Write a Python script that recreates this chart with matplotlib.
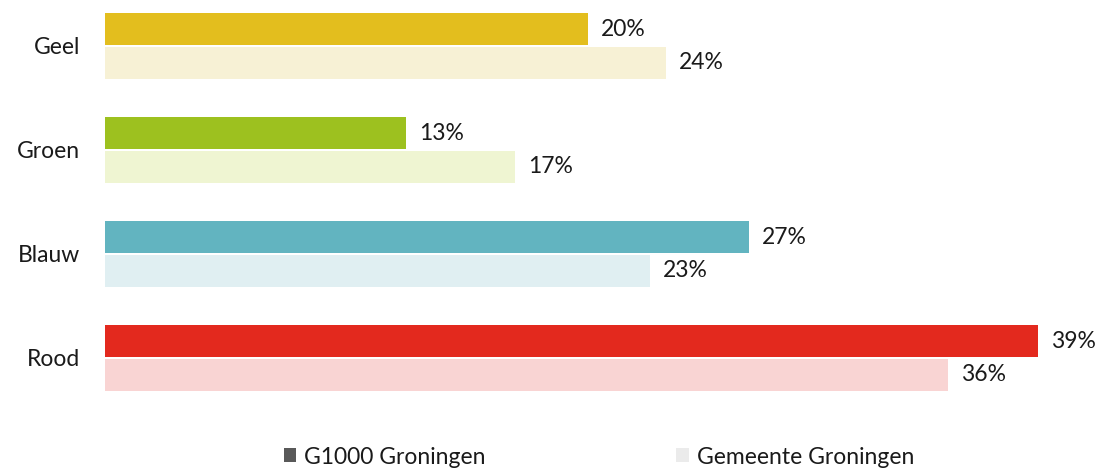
import matplotlib
matplotlib.use("Agg")
import matplotlib.pyplot as plt
from matplotlib.patches import Patch

categories = ["Geel", "Groen", "Blauw", "Rood"]
g1000 = [20.4, 12.7, 27.2, 39.4]
gemeente = [23.7, 17.3, 23.0, 35.6]
dark_colors = ["#E3BE1E", "#9DC11F", "#62B4C0", "#E3291E"]
light_colors = ["#F7F1D5", "#EFF5D2", "#E0EFF2", "#F9D4D3"]
series_names = ["G1000 Groningen", "Gemeente Groningen"]

plt.rcParams['font.family'] = ['Lato', 'DejaVu Sans']
FS = 16.5
FW = "normal"
TC = "#1a1a1a"
W, H = 1105, 470
fig = plt.figure(figsize=(W / 100, H / 100), dpi=100)
ax_left, ax_right = 105, 1100
ax_top, ax_bot = 0, 416
ax = fig.add_axes([ax_left / W, 1 - ax_bot / H, (ax_right - ax_left) / W, (ax_bot - ax_top) / H])

px_per_unit = 933 / 39.4
ax.set_xlim(0, (ax_right - ax_left) / px_per_unit)
t = -46 / 104
ax.set_ylim(t + 4, t)

bh = 0.31
off = 0.163
y = list(range(len(categories)))
ax.barh([v - off for v in y], g1000, height=bh, color=dark_colors)
ax.barh([v + off for v in y], gemeente, height=bh, color=light_colors)

for i in y:
    ax.text(g1000[i] + 13 / px_per_unit, i - off, f"{round(g1000[i])}%", va="center", ha="left",
            fontsize=FS, fontweight=FW, color=TC)
    ax.text(gemeente[i] + 13 / px_per_unit, i + off, f"{round(gemeente[i])}%", va="center", ha="left",
            fontsize=FS, fontweight=FW, color=TC)

ax.set_yticks(y)
ax.set_yticklabels(categories, fontsize=FS, fontweight=FW, color=TC)
ax.tick_params(axis="y", length=0, pad=18)
ax.set_xticks([])
for s in ax.spines.values():
    s.set_visible(False)

handles = [Patch(facecolor="#595959", edgecolor="none"), Patch(facecolor="#EBEBEB", edgecolor="none")]
fig.legend(handles, series_names, loc="center", bbox_to_anchor=(599 / W, 1 - 457 / H),
           ncol=2, frameon=False, prop={"size": FS, "weight": FW}, labelcolor=TC,
           handlelength=0.55, handleheight=0.55, handletextpad=0.35, columnspacing=8.3)

fig.savefig("out.png", dpi=100)
